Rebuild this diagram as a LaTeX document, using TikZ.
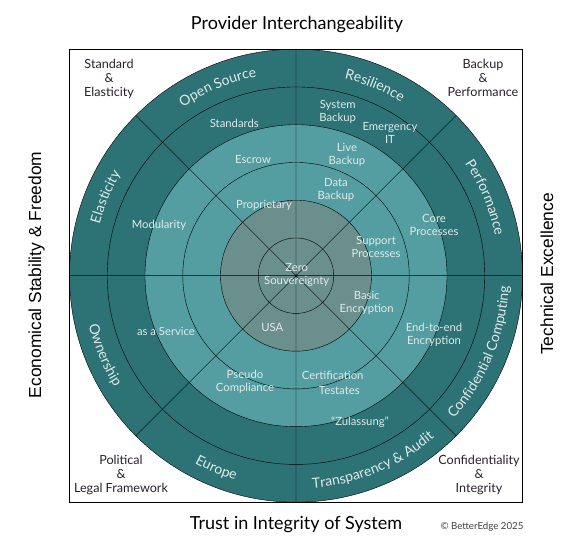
\documentclass[tikz,border=0pt]{standalone}
\usepackage{fontspec}
\setmainfont{Lato}
\newfontfamily\sidefont{Liberation Sans}
\usetikzlibrary{decorations.text}
\definecolor{ringdark}{RGB}{45,114,117}
\definecolor{ringlight}{RGB}{84,158,162}
\definecolor{ringcore}{RGB}{106,143,140}
\definecolor{ringtext}{RGB}{224,234,234}
\definecolor{cornertext}{RGB}{40,32,45}
\newcommand{\outerfont}{\fontsize{14}{16}\selectfont\color{ringtext}}

\begin{document}
\begin{tikzpicture}[x=1pt, y=1pt,%[node distance={15mm}]
  lbl/.style={text=ringtext, font=\fontsize{11.3}{13}\selectfont, align=center},
  corner/.style={text=cornertext, font=\fontsize{12.6}{14.2}\selectfont, align=center},
  side/.style={font=\sidefont\fontsize{17.4}{20}\selectfont, rotate=90},
  title/.style={font=\fontsize{18}{20}\selectfont},
  arcup/.style={decorate, decoration={text along path, text align=center, text={|\outerfont|#1}}}]
  \useasboundingbox (-296,-272.3) rectangle (290,275.7);

  % rings
  \fill[ringdark] (0,0) circle (226.5);
  \fill[ringlight] (0,0) circle (151);
  \fill[ringcore] (0,0) circle (75.5);
  \foreach \k in {1,...,6} \draw (0,0) circle ({\k*37.75});

  \coordinate (nw) at (-226.5,226.5);
  \coordinate (se) at (226.5,-226.5);
  \draw (nw) rectangle (se);
  \draw (nw|-0,0) -- (se|-0,0)
        (nw-|0,0) -- (se-|0,0)
        (45:226.5) -- (225:226.5)
        (135:226.5) -- (315:226.5);

  % outer ring
  \path[arcup={Open Source}] (135:203) arc[start angle=135, end angle=90, radius=203];
  \path[arcup={Resilience}] (90:203) arc[start angle=90, end angle=45, radius=203];
  \path[arcup={Elasticity}] (180:203) arc[start angle=180, end angle=135, radius=203];
  \path[arcup={Performance}] (45:203) arc[start angle=45, end angle=0, radius=203];
  \path[arcup={Ownership}] (180:213) arc[start angle=180, end angle=225, radius=213];
  \path[arcup={Europe}] (225:213) arc[start angle=225, end angle=270, radius=213];
  \path[arcup={Transparency {\&} Audit}] (270:213) arc[start angle=270, end angle=315, radius=213];
  \path[arcup={Confidential Computing}] (315:213) arc[start angle=315, end angle=360, radius=213];

  % inner rings
  \node[lbl] (standards) at (-61.7,152.4) {Standards};
  \node[lbl] (escrow) at (-43,115.7) {Escrow};
  \node[lbl] (proprietary) at (-32,70.7) {Proprietary};
  \node[lbl] (modularity) at (-137,50) {Modularity};
  \node[lbl] (sysbackup) at (41.7,164) {System\\Backup};
  \node[lbl] (emergency) at (94,142.7) {Emergency\\IT};
  \node[lbl] (livebackup) at (51,120.7) {Live\\Backup};
  \node[lbl] (databackup) at (40,85.7) {Data\\Backup};
  \node[lbl] (core) at (138,50.7) {Core\\Processes};
  \node[lbl] (support) at (80,29) {Support\\Processes};
  \node[lbl] (zero) at (0.7,1.2) {Zero\\Souvereignty};
  \node[lbl] (basic) at (70.7,-27.6) {Basic\\Encryption};
  \node[lbl] (endtoend) at (138,-59.3) {End-to-end\\Encryption};
  \node[lbl] (service) at (-130,-56) {as a Service};
  \node[lbl] (usa) at (-23.7,-52) {USA};
  \node[lbl] (pseudo) at (-51,-106) {Pseudo\\Compliance};
  \node[lbl] (certification) at (36.7,-99.3) {Certification};
  \node[lbl] (testates) at (43.3,-115) {Testates};
  \node[lbl] (zulassung) at (64,-147) {``Zulassung''};

  % corners
  \node[corner] (stdel) at (-187,196.7) {Standard\\\&\\Elasticity};
  \node[corner] (backperf) at (187,197.7) {Backup\\\&\\Performance};
  \node[corner] (political) at (-175,-199.3) {Political\\\&\\Legal Framework};
  \node[corner] (confint) at (183,-199.3) {Confidentiality\\\&\\Integrity};

  % axes
  \node[title] (provider) at (1,250.7) {Provider Interchangeability};
  \node[title] (trust) at (0,-249.3) {Trust in Integrity of System};
  \node[side] (economical) at (-259.3,0.7) {Economical Stability \& Freedom};
  \node[side] (technical) at (251,1.7) {Technical Excellence};
  \node[font=\fontsize{9.7}{11}\selectfont, text=black!75] (copyright) at (186,-251) {\textcopyright{} BetterEdge 2025};
\end{tikzpicture}
\end{document}
